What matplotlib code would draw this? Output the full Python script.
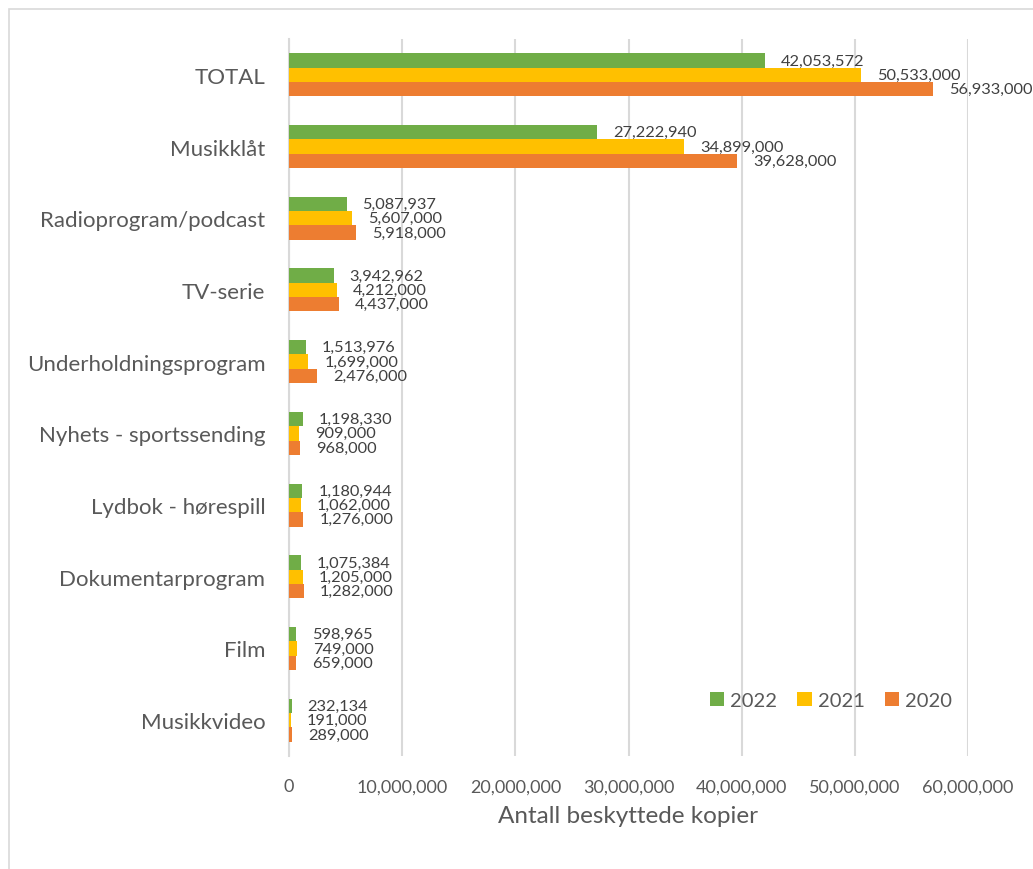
import matplotlib
matplotlib.use("Agg")
import matplotlib.pyplot as plt
from matplotlib.ticker import FuncFormatter
from matplotlib.patches import Rectangle
import numpy as np

categories = ["TOTAL", "Musikklåt", "Radioprogram/podcast", "TV-serie",
              "Underholdningsprogram", "Nyhets - sportssending", "Lydbok - hørespill",
              "Dokumentarprogram", "Film", "Musikkvideo"]
v2022 = [42053572, 27222940, 5087937, 3942962, 1513976, 1198330, 1180944, 1075384, 598965, 232134]
v2021 = [50533000, 34899000, 5607000, 4212000, 1699000, 909000, 1062000, 1205000, 749000, 191000]
v2020 = [56933000, 39628000, 5918000, 4437000, 2476000, 968000, 1276000, 1282000, 659000, 289000]
series = [("2022", v2022, "#70AD47"), ("2021", v2021, "#FFC000"), ("2020", v2020, "#ED7D31")]
xticks = [0, 10000000, 20000000, 30000000, 40000000, 50000000, 60000000]
xlabel = "Antall beskyttede kopier"

FONT = "Lato"
GRAY = "#595959"

fig = plt.figure(figsize=(10.33, 8.7), dpi=100)
fig.patches.append(Rectangle((9/1033, -0.1), 1.2, 1 - 10/870 + 0.1, transform=fig.transFigure,
                             fill=False, edgecolor="#D9D9D9", linewidth=1.2))
ax = fig.add_axes([289/1033, 1 - 757/870, (968 - 289)/1033, (757 - 40)/870])

n = len(categories)
y = np.arange(n)
h = 0.2
for i, (name, vals, col) in enumerate(series):
    pos = y + (i - 1) * h
    ax.barh(pos, vals, height=h, color=col, label=name, zorder=3)
    for p, v in zip(pos, vals):
        ax.annotate(f"{v:,}", (v, p), xytext=(16, 0), textcoords="offset pixels",
                    va="center", ha="left", fontsize=11.8, color="#404040", family=FONT, zorder=4)

ax.set_ylim(n - 0.5, -0.5)
ax.set_xlim(0, 60000000)
ax.set_yticks(y)
ax.set_yticklabels(categories, fontsize=16, color=GRAY, family=FONT)
ax.set_xticks(xticks)
ax.xaxis.set_major_formatter(FuncFormatter(lambda v, p: f"{int(v):,}"))
for t in ax.get_xticklabels():
    t.set_family(FONT)
    t.set_fontsize(13)
    t.set_color(GRAY)
ax.tick_params(length=0)
ax.tick_params(axis="x", pad=16)
ax.tick_params(axis="y", pad=17)
ax.grid(axis="x", color="#D9D9D9", linewidth=1.5, zorder=0)
for s in ["top", "right", "bottom"]:
    ax.spines[s].set_visible(False)
ax.spines["left"].set_color("#D9D9D9")
ax.spines["left"].set_linewidth(1.5)
ax.set_xlabel(xlabel, fontsize=17.5, color=GRAY, family=FONT, labelpad=8)

leg = ax.legend(loc="center right", bbox_to_anchor=(0.976, 0.077), ncol=3, frameon=False,
                prop={"family": FONT, "size": 14.5}, handlelength=0.7, handleheight=0.7,
                columnspacing=1.0, handletextpad=0.3, borderpad=0, borderaxespad=0)
for t in leg.get_texts():
    t.set_color(GRAY)

fig.savefig("out.png", dpi=100)
